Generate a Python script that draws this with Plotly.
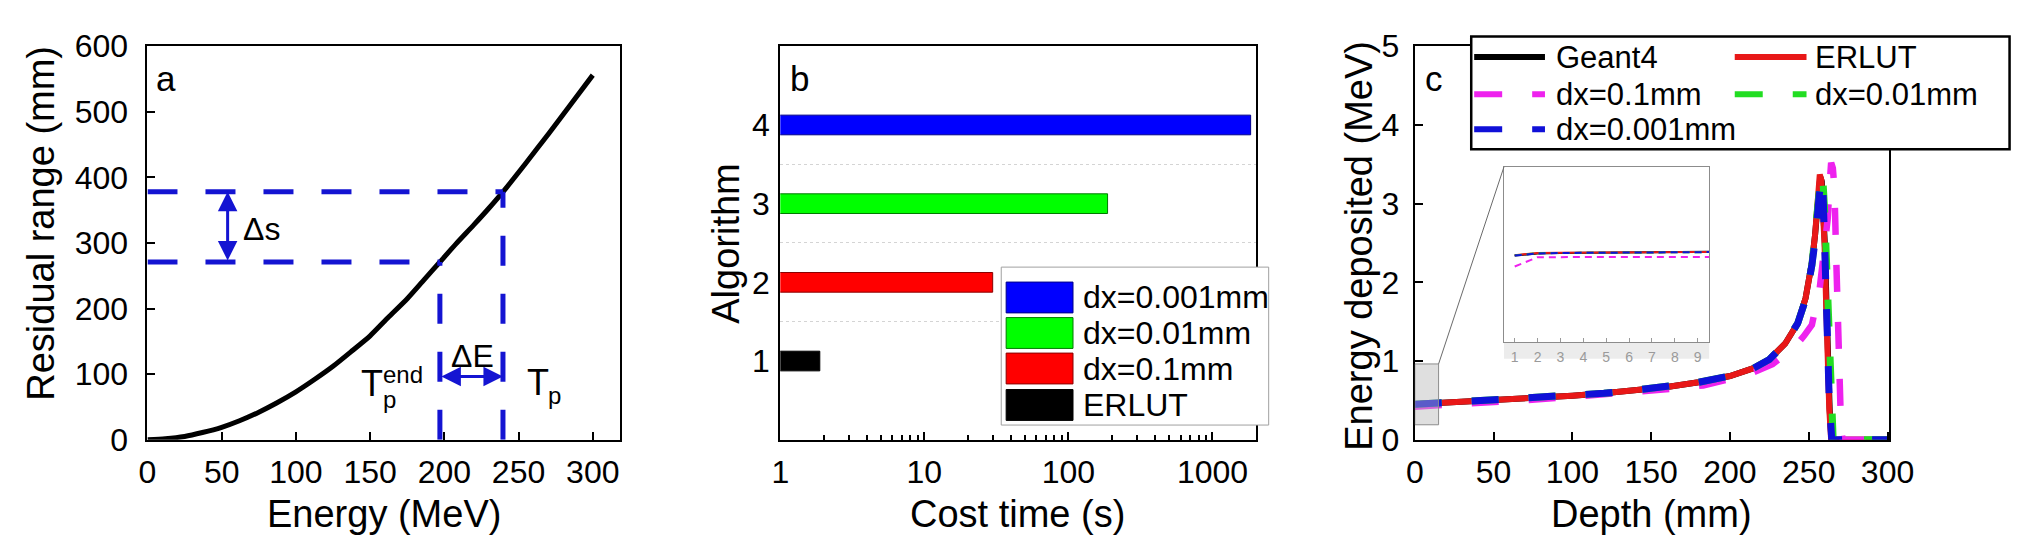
import plotly.graph_objects as go

FONT = "Liberation Sans, Arial, Helvetica, sans-serif"
W, H = 2030, 550

# ---------------- data: panel a (range-energy curve) ----------------
energy_mev = [0, 12, 25, 37, 50, 62, 75, 87, 100, 112, 125, 137, 150, 162, 175, 186, 197,
              208, 220, 230, 239.5, 255, 270, 285, 300]
residual_mm = [0, 1.5, 5, 11, 19, 29, 42, 56, 73, 91, 112, 134, 158.5, 186, 215, 243, 271,
               299, 328, 353, 378, 422, 466, 511, 556]
TP = 239.5          # MeV
TP_END = 197.0      # MeV
R_TP = 378.0        # mm
R_END = 271.0       # mm

# ---------------- data: panel b (cost time) ----------------
algorithms = [1, 2, 3, 4]
cost_time_s = [1.88, 29.8, 187, 1840]
bar_names = ["ERLUT", "dx=0.1mm", "dx=0.01mm", "dx=0.001mm"]
bar_colors = ["#000000", "#ff0000", "#00ff00", "#0000ff"]
bar_edges = ["#000000", "#8a0000", "#007a00", "#00008a"]
log_minor = [2, 3, 4, 5, 6, 7, 8, 9, 20, 30, 40, 50, 60, 70, 80, 90,
             200, 300, 400, 500, 600, 700, 800, 900, 2000]

# ---------------- data: panel c (depth dose) ----------------
depth_g4 = [0, 20, 40, 60, 80, 100, 120, 140, 160, 180, 200, 215, 225, 235, 243, 248, 252, 254,
            256, 257.3, 258.3, 259.3, 260.3, 261.3, 262.3, 263.3, 264.4, 300]
edep_g4 = [0.45, 0.47, 0.49, 0.51, 0.53, 0.56, 0.59, 0.63, 0.67, 0.73, 0.81, 0.91, 1.02, 1.22,
           1.48, 1.80, 2.25, 2.60, 3.08, 3.34, 3.28, 2.92, 2.45, 1.70, 0.90, 0.38, 0.0, 0.0]
depth_erlut = [0, 20, 40, 60, 80, 100, 120, 140, 160, 180, 200, 215, 225, 235, 243, 248, 252,
               254, 256, 257, 258, 259, 260, 261, 262, 263, 264.2, 300]
edep_erlut = [0.45, 0.47, 0.49, 0.51, 0.53, 0.56, 0.59, 0.63, 0.67, 0.73, 0.81, 0.91, 1.02, 1.22,
              1.48, 1.80, 2.25, 2.60, 3.10, 3.37, 3.30, 2.95, 2.50, 1.75, 0.94, 0.40, 0.0, 0.0]
depth_dx01 = [0, 20, 40, 60, 90, 120, 144, 165, 183, 200, 212, 227, 241, 247, 252, 257, 260,
              262, 263.3, 264.2, 265.3, 266.3, 267.4, 268.4, 269.4, 270.5, 271.5, 300]
edep_dx01 = [0.42, 0.45, 0.47, 0.49, 0.53, 0.57, 0.61, 0.65, 0.69, 0.76, 0.83, 0.96, 1.18, 1.32,
             1.46, 1.93, 2.40, 2.80, 3.25, 3.52, 3.45, 3.20, 2.33, 1.54, 0.75, 0.15, 0.0, 0.0]
depth_dx001 = [0, 20, 40, 60, 80, 100, 120, 140, 160, 180, 200, 215, 225, 235, 243, 248, 252,
               254.5, 256.5, 258, 259, 260, 261, 262, 263, 264, 265.5, 300]
edep_dx001 = [0.45, 0.47, 0.49, 0.51, 0.53, 0.56, 0.59, 0.63, 0.67, 0.73, 0.81, 0.91, 1.02, 1.22,
              1.48, 1.78, 2.22, 2.62, 3.12, 3.38, 3.30, 2.95, 2.45, 1.80, 1.00, 0.40, 0.0, 0.0]
depth_dx0001 = [0, 20, 40, 60, 80, 100, 120, 140, 160, 180, 200, 215, 225, 235, 243, 248, 252,
                254.5, 256.5, 258, 259, 260, 261, 262, 263, 264.6, 300]
edep_dx0001 = [0.45, 0.47, 0.49, 0.51, 0.53, 0.56, 0.59, 0.63, 0.67, 0.73, 0.81, 0.91, 1.02, 1.22,
               1.48, 1.78, 2.22, 2.60, 3.08, 3.32, 3.20, 2.70, 2.00, 1.20, 0.50, 0.0, 0.0]

# inset (zoom of the first millimetres)
inset_x = [1, 2, 3, 4, 5, 6, 7, 8, 9, 9.5]
inset_g4 = [0.395, 0.405, 0.407, 0.408, 0.409, 0.410, 0.410, 0.411, 0.411, 0.412]
inset_erlut = [0.397, 0.407, 0.408, 0.409, 0.409, 0.410, 0.410, 0.411, 0.411, 0.411]
inset_dx01 = [0.345, 0.388, 0.388, 0.388, 0.388, 0.389, 0.389, 0.389, 0.389, 0.389]
inset_dx001 = [0.396, 0.406, 0.407, 0.408, 0.409, 0.409, 0.410, 0.410, 0.411, 0.411]
inset_dx0001 = [0.395, 0.405, 0.407, 0.408, 0.409, 0.410, 0.410, 0.411, 0.411, 0.411]
inset_ticks = [1, 2, 3, 4, 5, 6, 7, 8, 9]

line_names = ["Geant4", "ERLUT", "dx=0.1mm", "dx=0.01mm", "dx=0.001mm"]
line_colors = ["#000000", "#e81818", "#ee22ee", "#22dd22", "#1010d8"]
line_dash = ["solid", "solid", "dash", "dash", "dash"]

BLUE_A = "#1414d2"

# ---------------- layout geometry (pixels) ----------------
def px(x):
    return x / W

def py(y):
    return 1 - y / H

TOP, BOT = 21.7, 442.7
A_L, A_R = 132.7, 613.5
B_L, B_R = 776.3, 1259.8
C_L, C_R = 1421.6, 1904.0
I_L, I_R, I_T, I_B = 1512.3, 1721.0, 150.7, 338.3

fig = go.Figure()

# ---- panel a ----
fig.add_trace(go.Scatter(x=energy_mev, y=residual_mm, mode="lines",
                         line=dict(color="black", width=5, shape="spline", smoothing=0.6),
                         xaxis="x", yaxis="y", showlegend=False))
dash_a = "30px,28px"
for xs, ys in [([0, TP], [R_TP, R_TP]), ([0, TP_END], [R_END, R_END]),
               ([TP_END, TP_END], [0, R_END]), ([TP, TP], [0, R_TP])]:
    fig.add_trace(go.Scatter(x=xs, y=ys, mode="lines",
                             line=dict(color=BLUE_A, width=5, dash=dash_a),
                             xaxis="x", yaxis="y", showlegend=False))

# ---- panel b ----
for i in range(4):
    fig.add_trace(go.Bar(y=[algorithms[i]], x=[cost_time_s[i]], orientation="h",
                         width=0.25, marker=dict(color=bar_colors[i],
                                                 line=dict(color=bar_edges[i], width=1)),
                         name=bar_names[i], xaxis="x2", yaxis="y2", showlegend=False))

# ---- panel c ----
series_c = [(depth_g4, edep_g4), (depth_erlut, edep_erlut), (depth_dx01, edep_dx01),
            (depth_dx001, edep_dx001), (depth_dx0001, edep_dx0001)]
widths_c = [6, 6, 6.5, 7, 7]
for k, (xs, ys) in enumerate(series_c):
    fig.add_trace(go.Scatter(x=xs, y=ys, mode="lines", name=line_names[k],
                             line=dict(color=line_colors[k], width=widths_c[k],
                                       dash="solid" if line_dash[k] == "solid" else "27px,30px"),
                             xaxis="x3", yaxis="y3", showlegend=False))

# ---- inset ----
series_i = [inset_g4, inset_erlut, inset_dx01, inset_dx001, inset_dx0001]
for k, ys in enumerate(series_i):
    fig.add_trace(go.Scatter(x=inset_x, y=ys, mode="lines",
                             line=dict(color=line_colors[k], width=2,
                                       dash="solid" if line_dash[k] == "solid" else "7px,5px"),
                             xaxis="x4", yaxis="y4", showlegend=False))

tickfont = dict(family=FONT, size=32, color="black")
common = dict(showline=True, linecolor="black", linewidth=2, mirror=True, ticks="inside",
              ticklen=8, tickwidth=2, tickcolor="black", showgrid=False, zeroline=False,
              tickfont=tickfont)

fig.update_layout(
    width=W, height=H, margin=dict(l=0, r=0, t=0, b=0),
    paper_bgcolor="white", plot_bgcolor="white", font=dict(family=FONT, color="black"),
    xaxis=dict(domain=[px(A_L), px(A_R)], range=[0, 318.5], tick0=0, dtick=50, anchor="y",
               ticklabelstandoff=3, **common),
    yaxis=dict(domain=[py(BOT), py(TOP)], range=[0, 600], tick0=0, dtick=100, anchor="x",
               ticklabelstandoff=11, **common),
    xaxis2=dict(domain=[px(B_L), px(B_R)], type="log", range=[0, 3.30], anchor="y2",
                tickvals=[1, 10, 100, 1000], ticktext=["1", "10", "100", "1000"],
                minor=dict(tickvals=log_minor, ticks="inside", ticklen=5, tickwidth=1.5,
                           tickcolor="black"),
                ticklabelstandoff=3, **common),
    yaxis2=dict(domain=[py(BOT), py(TOP)], range=[0, 5], anchor="x2",
                tickvals=algorithms, ticktext=[str(a) for a in algorithms],
                minor=dict(tickvals=[1.5, 2.5, 3.5], showgrid=True, gridcolor="#d4d4d4",
                           griddash="dot", gridwidth=1, ticks=""),
                ticklabelstandoff=2,
                **{k: v for k, v in common.items() if k not in ("ticks",)}, ticks=""),
    xaxis3=dict(domain=[px(C_L), px(C_R)], range=[0, 301], tick0=0, dtick=50, anchor="y3",
                ticklabelstandoff=3, **common),
    yaxis3=dict(domain=[py(BOT), py(TOP)], range=[0, 5], tick0=0, dtick=1, anchor="x3",
                ticklabelstandoff=7, **common),
    xaxis4=dict(domain=[px(I_L), px(I_R)], range=[0.53, 9.5], anchor="y4",
                tickvals=inset_ticks, showline=True, linecolor="#8c8c8c", linewidth=1,
                mirror=True, ticks="inside", ticklen=4, tickcolor="#9a9a9a", showgrid=False,
                zeroline=False, tickfont=dict(family=FONT, size=14, color="#9a9a9a"),
                ticklabelstandoff=2),
    yaxis4=dict(domain=[py(I_B), py(I_T)], range=[0, 0.8], anchor="x4", showticklabels=False,
                showline=True, linecolor="#8c8c8c", linewidth=1, mirror=True, ticks="",
                showgrid=False, zeroline=False),
)

shapes = []
# inset backgrounds
shapes.append(dict(type="rect", xref="x4 domain", yref="y4 domain", x0=0, x1=1, y0=0, y1=1,
                   fillcolor="#e8e8e8", line=dict(width=0), layer="below"))
shapes.append(dict(type="rect", xref="paper", yref="paper", x0=px(I_L), x1=px(I_R),
                   y0=py(356), y1=py(I_B), fillcolor="#ececec", line=dict(width=0),
                   layer="below"))
# zoom rectangle in panel c and connector
ZX0, ZX1, ZY0, ZY1 = 0, 15.1, 0.19, 0.963
shapes.append(dict(type="rect", xref="x3", yref="y3", x0=ZX0, x1=ZX1, y0=ZY0, y1=ZY1,
                   fillcolor="rgba(185,185,185,0.45)", line=dict(color="#8c8c8c", width=1),
                   layer="above"))
shapes.append(dict(type="line", xref="paper", yref="paper",
                   x0=px(C_L + ZX1 * (C_R - C_L) / 301), y0=py(BOT - ZY1 * (BOT - TOP) / 5),
                   x1=px(I_L), y1=py(I_T), line=dict(color="#6a6a6a", width=1), layer="above"))

# legend panel b (custom, large swatches)
LB_L, LB_R, LB_T, LB_B = 1001, 1273, 258, 427
shapes.append(dict(type="rect", xref="paper", yref="paper", x0=px(LB_L), x1=px(LB_R),
                   y0=py(LB_B), y1=py(LB_T), fillcolor="white",
                   line=dict(color="#a0a0a0", width=1), layer="above"))
leg_b_rows = [(274, 307), (312, 345), (350, 383), (389, 422)]
leg_b_order = [3, 2, 1, 0]
annotations = []
for (t, b), idx in zip(leg_b_rows, leg_b_order):
    shapes.append(dict(type="rect", xref="paper", yref="paper", x0=px(1006), x1=px(1074),
                       y0=py(b), y1=py(t), fillcolor=bar_colors[idx],
                       line=dict(color=bar_edges[idx], width=1), layer="above"))
    annotations.append(dict(x=px(1082), y=py((t + b) / 2), xref="paper", yref="paper",
                            text=bar_names[idx], showarrow=False, xanchor="left",
                            yanchor="middle", font=dict(family=FONT, size=32, color="black")))

# legend panel c (custom)
LC_L, LC_R, LC_T, LC_B = 1479, 2026.5, 11.2, 132
shapes.append(dict(type="rect", xref="paper", yref="paper", x0=px(LC_L), x1=px(LC_R),
                   y0=py(LC_B), y1=py(LC_T), fillcolor="white",
                   line=dict(color="black", width=2.5), layer="above"))
leg_c_pos = [(1482, 1554, 1563, 33.3), (1747, 1820, 1827, 33.3),
             (1482, 1554, 1563, 73), (1747, 1820, 1827, 73), (1482, 1554, 1563, 110.5)]
for k, (l0, l1, tx, yy) in enumerate(leg_c_pos):
    shapes.append(dict(type="line", xref="paper", yref="paper", x0=px(l0), x1=px(l1),
                       y0=py(yy), y1=py(yy),
                       line=dict(color=line_colors[k], width=6,
                                 dash="solid" if line_dash[k] == "solid" else "28px,30px"),
                       layer="above"))
    annotations.append(dict(x=px(tx), y=py(yy), xref="paper", yref="paper", text=line_names[k],
                            showarrow=False, xanchor="left", yanchor="middle",
                            font=dict(family=FONT, size=31, color="black")))

# panel a annotations: arrows and labels
DS_X = 54
DE_Y = 96.4
annotations.append(dict(x=DS_X, y=R_TP, ax=DS_X, ay=R_END, xref="x", yref="y", axref="x",
                        ayref="y", text="", showarrow=True, arrowhead=2, startarrowhead=2,
                        arrowside="end+start", arrowwidth=3, arrowsize=1.3, startarrowsize=1.3,
                        arrowcolor=BLUE_A))
annotations.append(dict(x=TP, y=DE_Y, ax=TP_END, ay=DE_Y, xref="x", yref="y", axref="x",
                        ayref="y", text="", showarrow=True, arrowhead=2, startarrowhead=2,
                        arrowside="end+start", arrowwidth=3, arrowsize=1.3, startarrowsize=1.3,
                        arrowcolor=BLUE_A))
txt_a = [("Δs", 76.5, 322, 32, "center"), ("ΔE", 219, 128, 32, "center"),
         ("T", 142.8, 86, 36, "left"), ("end", 157.6, 100, 24, "left"),
         ("p", 157.6, 62, 24, "left"), ("T", 254.3, 87, 36, "left"), ("p", 268.6, 67, 24, "left")]
for t, x, y, s, anc in txt_a:
    annotations.append(dict(x=x, y=y, xref="x", yref="y", text=t, showarrow=False,
                            xanchor=anc, yanchor="middle",
                            font=dict(family=FONT, size=s, color="black")))

# panel letters
for t, xr, yr in [("a", "x domain", "y domain"), ("b", "x2 domain", "y2 domain"),
                  ("c", "x3 domain", "y3 domain")]:
    annotations.append(dict(x=0.04, y=0.918, xref=xr, yref=yr, text=t, showarrow=False,
                            xanchor="center", yanchor="middle",
                            font=dict(family=FONT, size=35, color="black")))

# axis titles
TF = dict(family=FONT, size=38, color="black")
for t, xc in [("Energy (MeV)", (A_L + A_R) / 2), ("Cost time (s)", (B_L + B_R) / 2),
              ("Depth (mm)", (C_L + C_R) / 2)]:
    annotations.append(dict(x=px(xc), y=py(522), xref="paper", yref="paper", text=t,
                            showarrow=False, xanchor="center", yanchor="middle", font=TF))
for t, xc, yc in [("Residual range (mm)", 25, 211), ("Algorithm", 721, 232),
                  ("Energy deposited (MeV)", 1364, 235)]:
    annotations.append(dict(x=px(xc), y=py(yc), xref="paper", yref="paper", text=t,
                            showarrow=False, xanchor="center", yanchor="middle",
                            textangle=-90, font=TF))

fig.update_layout(shapes=shapes, annotations=annotations)
fig.write_html("out.html")
